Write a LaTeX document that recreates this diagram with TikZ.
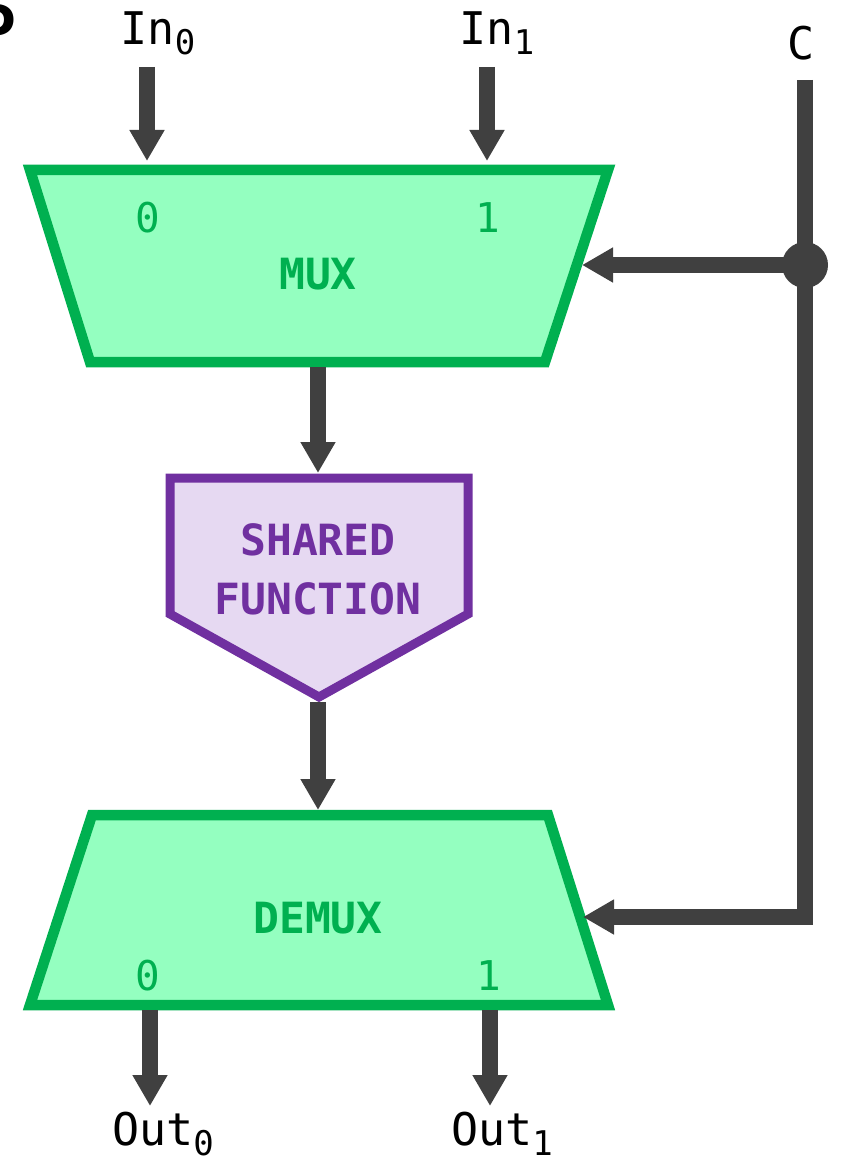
\documentclass[tikz,border=0pt]{standalone}
\usepackage{fontspec}
\setmonofont{DejaVu Sans Mono}
\setsansfont{Carlito}
\usetikzlibrary{arrows.meta}

\definecolor{wire}{HTML}{404040}
\definecolor{muxfill}{HTML}{94FFC0}
\definecolor{muxline}{HTML}{00B050}
\definecolor{fnfill}{HTML}{E6D9F2}
\definecolor{fnline}{HTML}{7030A0}

% lowered, smaller subscript digit in the label font
\newcommand\portsub[1]{\raisebox{-10pt}{\fontsize{34}{34}\selectfont #1}}

\begin{document}
\begin{tikzpicture}[x=1pt,y=-1pt,
  wirearrow/.style={draw=wire, line width=16pt, -{Triangle[length=31pt,width=33pt]}},
  wireline/.style={draw=wire, line width=16pt, line join=miter},
  muxblock/.style={draw=muxline, fill=muxfill, line width=10.5pt, line join=miter},
  fnblock/.style={draw=fnline, fill=fnfill, line width=9pt, line join=miter},
  pinlabel/.style={anchor=base, inner sep=0pt, text=muxline,
    font=\ttfamily\fontsize{41}{41}\selectfont},
  blocklabel/.style={anchor=base, inner sep=0pt,
    font=\ttfamily\bfseries\fontsize{43}{43}\selectfont},
  iolabel/.style={anchor=base, inner sep=0pt, text=black,
    font=\ttfamily\fontsize{45}{45}\selectfont}]
\useasboundingbox (0,0) rectangle (841,1161);

% clipped letter at the top-left corner
\begin{scope}
  \clip (0,0) rectangle (841,1161);
  \node[anchor=base east, inner sep=0pt, font=\sffamily\bfseries\fontsize{74}{74}\selectfont] (corner) at (16,53) {P};
\end{scope}

% ---- MUX ----
\coordinate (muxTL) at (30,170);
\coordinate (muxTR) at (608,170);
\coordinate (muxBR) at (545,362);
\coordinate (muxBL) at (90,362);
\path[muxblock] (muxTL) -- (muxTR) -- (muxBR) -- (muxBL) -- cycle;
\node[pinlabel] (mux0) at (148,232) {0};
\node[pinlabel] (mux1) at (488,232) {1};
\node[blocklabel, text=muxline] (muxname) at (318,289) {MUX};
\coordinate (muxin0) at (147,161);
\coordinate (muxin1) at (487,161);
\coordinate (muxsel) at (582,265);
\coordinate (muxout) at (318,367);

% ---- shared function ----
\coordinate (fnTL) at (170,478);
\coordinate (fnTR) at (468,478);
\coordinate (fnR) at (468,614);
\coordinate (fnB) at (319,697);
\coordinate (fnL) at (170,614);
\path[fnblock] (fnTL) -- (fnTR) -- (fnR) -- (fnB) -- (fnL) -- cycle;
\node[blocklabel, text=fnline] (fn1) at (318,555) {SHARED};
\node[blocklabel, text=fnline] (fn2) at (318,614) {FUNCTION};
\coordinate (fnin) at (318,473);
\coordinate (fnout) at (318,702);

% ---- DEMUX ----
\coordinate (dmTL) at (92,815);
\coordinate (dmTR) at (548,815);
\coordinate (dmBR) at (608,1005);
\coordinate (dmBL) at (30,1005);
\path[muxblock] (dmTL) -- (dmTR) -- (dmBR) -- (dmBL) -- cycle;
\node[blocklabel, text=muxline] (dmname) at (318,933) {DEMUX};
\node[pinlabel] (dm0) at (148,990) {0};
\node[pinlabel] (dm1) at (489,990) {1};
\coordinate (dmin) at (318,810);
\coordinate (dmsel) at (583,917);
\coordinate (dmout0) at (150,1010);
\coordinate (dmout1) at (490,1010);

% ---- inputs, outputs and control ----
\node[iolabel] (in0) at (158,45) {In\portsub{0}};
\node[iolabel] (in1) at (497,45) {In\portsub{1}};
\node[iolabel] (ctl) at (801,60) {C};
\node[iolabel] (out0) at (163,1145) {Out\portsub{0}};
\node[iolabel] (out1) at (502,1145) {Out\portsub{1}};

\coordinate (in0w) at (147,67);
\coordinate (in1w) at (487,67);
\coordinate (ctlw) at (805,80);
\coordinate (tap) at (805,265);
\coordinate (out0w) at (150,1106);
\coordinate (out1w) at (490,1106);

\draw[wirearrow] (in0w) -- (muxin0);
\draw[wirearrow] (in1w) -- (muxin1);
\draw[wirearrow] (muxout) -- (fnin);
\draw[wirearrow] (fnout) -- (dmin);
\draw[wirearrow] (dmout0) -- (out0w);
\draw[wirearrow] (dmout1) -- (out1w);

% control line with its branch point
\draw[wireline, -{Triangle[length=31pt,width=33pt]}] (ctlw) |- (dmsel);
\draw[wirearrow] (tap) -- (muxsel);
\fill[wire] (tap) circle (23pt);
\end{tikzpicture}
\end{document}
